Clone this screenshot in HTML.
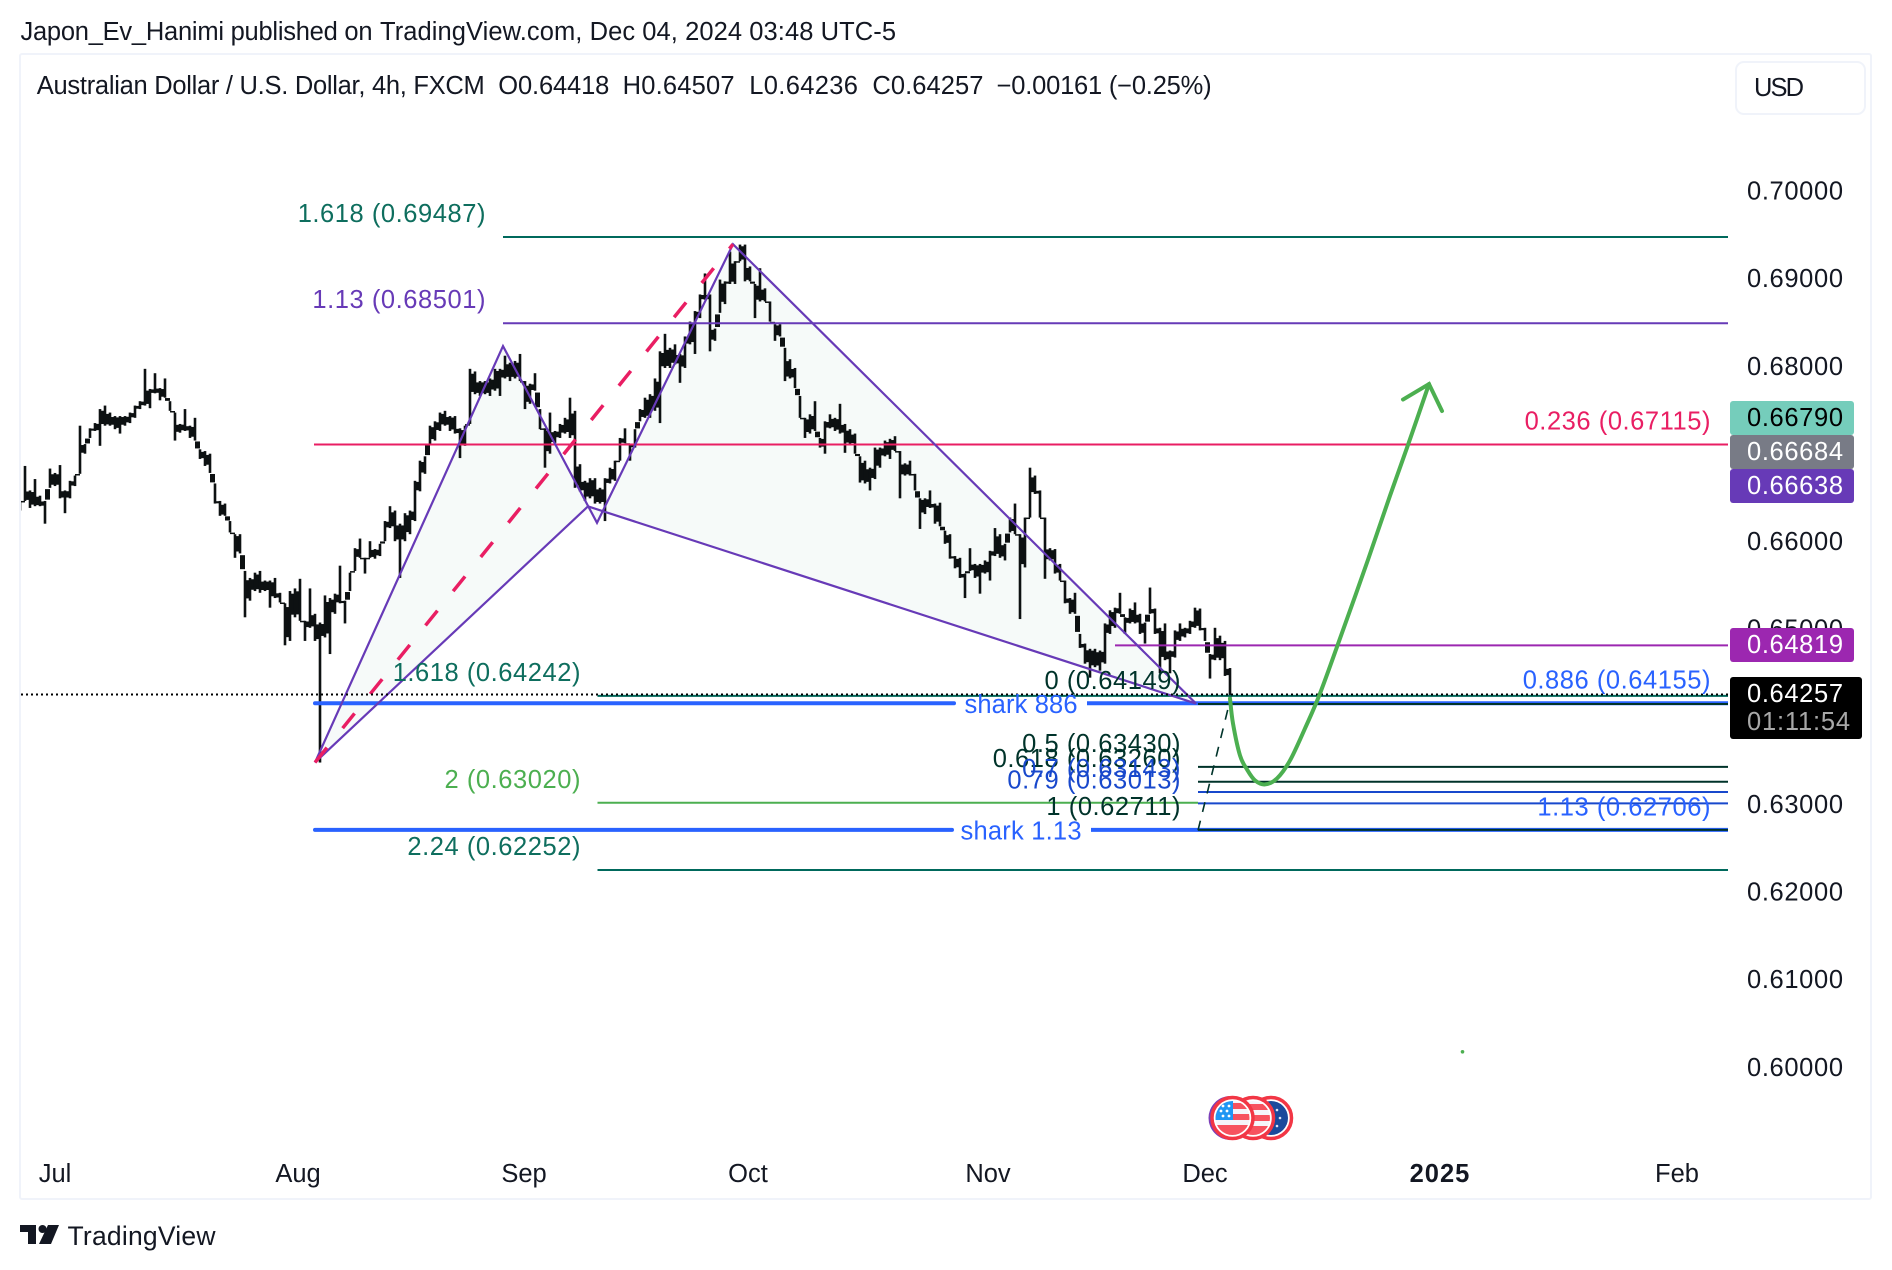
<!DOCTYPE html>
<html lang="en">
<head>
<meta charset="utf-8">
<title>AUD/USD 4h chart</title>
<style>
html,body{margin:0;padding:0;background:#fff;width:1892px;height:1270px;overflow:hidden}
svg{display:block;font-family:"Liberation Sans",sans-serif}
text{white-space:pre}
</style>
</head>
<body>
<svg id="chart" xmlns="http://www.w3.org/2000/svg" width="1892" height="1270" viewBox="0 0 1892 1270">
  <defs>
    <clipPath id="flag-clip-1"><circle cx="1232.5" cy="1118" r="17"/></clipPath>
    <clipPath id="flag-clip-2"><circle cx="1253" cy="1118" r="17"/></clipPath>
    <clipPath id="plot-clip"><rect x="21" y="55" width="1849" height="1143"/></clipPath>
  </defs>
  <rect x="0" y="0" width="1892" height="1270" fill="#ffffff"/>
  <g font-size="25.5" fill="#131722">
    <text x="20.5" y="32" dominant-baseline="central" textLength="352">Japon_Ev_Hanimi published on</text>
    <text x="380" y="32" dominant-baseline="central" textLength="516">TradingView.com, Dec 04, 2024 03:48 UTC-5</text>
  </g>
  <rect x="20" y="54" width="1851" height="1145" rx="2" fill="#ffffff" stroke="#f0f3fa" stroke-width="2"/>
  <g id="plot" clip-path="url(#plot-clip)"></g>
  <g id="axes"></g>

  <g font-size="25.5">
    <rect x="1730" y="401" width="124" height="34" rx="3" fill="#75cdbb"/>
    <text x="1747" y="418" dominant-baseline="central" fill="#000" textLength="96">0.66790</text>
    <rect x="1730" y="435" width="124" height="34" rx="3" fill="#787b86"/>
    <text x="1747" y="452" dominant-baseline="central" fill="#fff" textLength="96">0.66684</text>
    <rect x="1730" y="469" width="124" height="34" rx="3" fill="#673ab7"/>
    <text x="1747" y="486" dominant-baseline="central" fill="#fff" textLength="96">0.66638</text>
    <rect x="1730" y="628" width="124" height="34" rx="3" fill="#9c27b0"/>
    <text x="1747" y="645" dominant-baseline="central" fill="#fff" textLength="96">0.64819</text>
    <rect x="1730" y="677" width="132" height="62" rx="3" fill="#000"/>
    <text x="1747" y="694" dominant-baseline="central" fill="#fff" textLength="96">0.64257</text>
    <text x="1747" y="722" dominant-baseline="central" fill="#a8a8a8" textLength="103">01:11:54</text>
  </g>

  <g font-size="25.5" fill="#131722">
    <text x="36.8" y="86" dominant-baseline="central" textLength="448">Australian Dollar / U.S. Dollar, 4h, FXCM</text>
    <text x="498.3" y="86" dominant-baseline="central" textLength="111">O0.64418</text>
    <text x="622.6" y="86" dominant-baseline="central" textLength="112">H0.64507</text>
    <text x="749.3" y="86" dominant-baseline="central" textLength="108.6">L0.64236</text>
    <text x="872.4" y="86" dominant-baseline="central" textLength="111">C0.64257</text>
    <text x="996.6" y="86" dominant-baseline="central" textLength="215">−0.00161 (−0.25%)</text>
  </g>

  <g>
    <rect x="1736" y="62" width="129" height="52" rx="8" fill="#ffffff" stroke="#f0f3fa" stroke-width="2"/>
    <text x="1754" y="88" dominant-baseline="central" font-size="25.5" fill="#131722" textLength="50">USD</text>
  </g>

  <g>
    <circle cx="1230.5" cy="1118" r="22" fill="#7b3fb8"/>
    <g>
      <circle cx="1271" cy="1118" r="20.5" fill="#fff" stroke="#f23645" stroke-width="3.5"/>
      <circle cx="1271" cy="1118" r="17" fill="#1a4a9c"/>
      <circle cx="1277" cy="1110" r="1.3" fill="#dfe6f5"/>
      <circle cx="1280" cy="1118" r="1.3" fill="#dfe6f5"/>
      <circle cx="1277" cy="1126" r="1.3" fill="#dfe6f5"/>
    </g>
    <g>
      <circle cx="1253" cy="1118" r="20.5" fill="#fff" stroke="#f23645" stroke-width="3.5"/>
      <g clip-path="url(#flag-clip-2)">
        <rect x="1236" y="1101" width="34" height="34" fill="#f5f5fa"/>
        <rect x="1236" y="1104" width="34" height="6" fill="#f7525f"/>
        <rect x="1236" y="1115" width="34" height="6" fill="#f7525f"/>
        <rect x="1236" y="1126" width="34" height="9" fill="#f7525f"/>
      </g>
    </g>
    <g>
      <circle cx="1232.5" cy="1118" r="20.5" fill="#fff" stroke="#f23645" stroke-width="3.5"/>
      <g clip-path="url(#flag-clip-1)">
        <rect x="1215" y="1101" width="35" height="34" fill="#f5f5fa"/>
        <rect x="1215" y="1103" width="35" height="6" fill="#f7525f"/>
        <rect x="1215" y="1114" width="35" height="6" fill="#f7525f"/>
        <rect x="1215" y="1125" width="35" height="10" fill="#f7525f"/>
        <rect x="1215" y="1101" width="18" height="19" fill="#2196f3"/>
        <circle cx="1223" cy="1106" r="1.4" fill="#fff"/><circle cx="1229" cy="1106" r="1.4" fill="#fff"/>
        <circle cx="1221" cy="1111" r="1.4" fill="#fff"/><circle cx="1227" cy="1111" r="1.4" fill="#fff"/>
        <circle cx="1223" cy="1116" r="1.4" fill="#fff"/><circle cx="1229" cy="1116" r="1.4" fill="#fff"/>
      </g>
    </g>
  </g>

  <g>
    <path d="M20 1225H36V1244H28V1232H20Z" fill="#131722"/>
    <circle cx="42.5" cy="1229" r="4" fill="#131722"/>
    <path d="M48 1225H59L51 1244H39Z" fill="#131722"/>
    <text x="67.5" y="1236" dominant-baseline="central" font-size="26.5" fill="#131722" textLength="148">TradingView</text>
  </g>
</svg>

<script>
// ---- price axis data ----
const priceTicks = [0.70, 0.69, 0.68, 0.66, 0.65, 0.63, 0.62, 0.61, 0.60];
// ---- time axis data ----
const timeLabels = ["Jul", "Aug", "Sep", "Oct", "Nov", "Dec", "2025", "Feb"];
const timeTickBars = [7, 55.6, 100.8, 145.6, 193.6, 237, 284, 331.4];

const highs = [
0.6647,0.6687,0.6659,0.6672,0.6653,0.6647,0.6684,0.6679,0.6688,0.6659,0.6670,0.6676,0.6733,0.6712,0.6730,0.6736,
0.6752,0.6756,0.6748,0.6744,0.6744,0.6744,0.6748,0.6756,0.6761,0.6798,0.6775,0.6793,0.6776,0.6787,0.6761,0.6748,
0.6735,0.6752,0.6733,0.6742,0.6706,0.6704,0.6701,0.6667,0.6647,0.6644,0.6624,0.6609,0.6609,0.6567,0.6559,0.6565,
0.6567,0.6556,0.6556,0.6559,0.6542,0.6530,0.6544,0.6547,0.6558,0.6510,0.6547,0.6518,0.6508,0.6539,0.6536,0.6541,
0.6573,0.6533,0.6565,0.6593,0.6604,0.6582,0.6601,0.6592,0.6598,0.6624,0.6641,0.6636,0.6621,0.6633,0.6636,0.6670,
0.6693,0.6698,0.6733,0.6738,0.6748,0.6750,0.6744,0.6744,0.6730,0.6733,0.6798,0.6795,0.6784,0.6784,0.6787,0.6798,
0.6798,0.6813,0.6805,0.6807,0.6815,0.6784,0.6781,0.6793,0.6752,0.6730,0.6748,0.6727,0.6735,0.6742,0.6765,0.6750,
0.6689,0.6670,0.6673,0.6673,0.6662,0.6673,0.6685,0.6693,0.6719,0.6730,0.6712,0.6729,0.6752,0.6765,0.6769,0.6787,
0.6818,0.6838,0.6822,0.6826,0.6815,0.6835,0.6852,0.6864,0.6883,0.6907,0.6883,0.6844,0.6900,0.6898,0.6932,0.6921,
0.6940,0.6940,0.6915,0.6895,0.6913,0.6890,0.6875,0.6849,0.6849,0.6822,0.6809,0.6799,0.6767,0.6742,0.6746,0.6761,
0.6719,0.6738,0.6746,0.6742,0.6758,0.6735,0.6729,0.6724,0.6698,0.6693,0.6685,0.6708,0.6708,0.6716,0.6718,0.6721,
0.6704,0.6690,0.6693,0.6678,0.6650,0.6650,0.6659,0.6644,0.6645,0.6613,0.6609,0.6584,0.6582,0.6564,0.6593,0.6575,
0.6575,0.6579,0.6590,0.6616,0.6609,0.6598,0.6628,0.6644,0.6609,0.6628,0.6685,0.6676,0.6659,0.6628,0.6593,0.6592,
0.6575,0.6556,0.6536,0.6542,0.6495,0.6484,0.6478,0.6478,0.6476,0.6507,0.6522,0.6525,0.6542,0.6514,0.6524,0.6531,
0.6518,0.6508,0.6548,0.6524,0.6502,0.6507,0.6476,0.6499,0.6507,0.6502,0.6510,0.6525,0.6524,0.6502,0.6472,0.6502,
0.6493,0.6487,0.6456
];
const lows = [
0.6636,0.6647,0.6639,0.6641,0.6641,0.6621,0.6662,0.6664,0.6650,0.6633,0.6650,0.6664,0.6678,0.6701,0.6719,0.6727,
0.6710,0.6733,0.6733,0.6729,0.6724,0.6733,0.6736,0.6742,0.6752,0.6756,0.6753,0.6770,0.6762,0.6765,0.6750,0.6716,
0.6725,0.6727,0.6719,0.6716,0.6695,0.6687,0.6679,0.6644,0.6630,0.6630,0.6611,0.6582,0.6587,0.6514,0.6533,0.6544,
0.6542,0.6544,0.6525,0.6536,0.6531,0.6482,0.6487,0.6514,0.6510,0.6487,0.6502,0.6487,0.6348,0.6491,0.6472,0.6518,
0.6530,0.6507,0.6544,0.6567,0.6582,0.6564,0.6582,0.6581,0.6584,0.6601,0.6616,0.6601,0.6559,0.6601,0.6609,0.6624,
0.6658,0.6678,0.6712,0.6716,0.6727,0.6733,0.6727,0.6724,0.6696,0.6710,0.6735,0.6769,0.6767,0.6769,0.6767,0.6773,
0.6767,0.6787,0.6784,0.6787,0.6784,0.6752,0.6758,0.6773,0.6729,0.6685,0.6701,0.6713,0.6719,0.6724,0.6719,0.6662,
0.6658,0.6647,0.6650,0.6644,0.6644,0.6624,0.6667,0.6670,0.6693,0.6713,0.6693,0.6708,0.6738,0.6742,0.6742,0.6750,
0.6736,0.6799,0.6799,0.6803,0.6782,0.6799,0.6826,0.6815,0.6856,0.6877,0.6818,0.6830,0.6862,0.6872,0.6895,0.6895,
0.6921,0.6898,0.6898,0.6856,0.6875,0.6875,0.6852,0.6830,0.6835,0.6784,0.6787,0.6776,0.6742,0.6719,0.6724,0.6727,
0.6708,0.6701,0.6730,0.6727,0.6724,0.6702,0.6712,0.6701,0.6668,0.6667,0.6659,0.6672,0.6685,0.6698,0.6695,0.6704,
0.6650,0.6676,0.6676,0.6659,0.6615,0.6632,0.6639,0.6621,0.6618,0.6598,0.6581,0.6570,0.6559,0.6536,0.6567,0.6559,
0.6541,0.6564,0.6556,0.6584,0.6582,0.6579,0.6611,0.6609,0.6512,0.6571,0.6628,0.6655,0.6628,0.6558,0.6579,0.6564,
0.6556,0.6530,0.6518,0.6518,0.6479,0.6461,0.6445,0.6457,0.6453,0.6461,0.6495,0.6502,0.6518,0.6495,0.6507,0.6507,
0.6495,0.6484,0.6518,0.6495,0.6450,0.6465,0.6450,0.6468,0.6487,0.6491,0.6495,0.6502,0.6499,0.6487,0.6444,0.6465,
0.6465,0.6447,0.6422
];

// ---- current price ----
const lastPrice = [0.64257];

// ---- level data ----
const levelPrices = [0.69487, 0.68501, 0.67115, 0.64819, 0.64242, 0.63020, 0.62252, 0.64149, 0.63430, 0.63260, 0.63143, 0.63013, 0.62711, 0.64155, 0.62706];
const levelTexts = ["1.618", "1.13", "0.236", "", "1.618", "2", "2.24", "0", "0.5", "0.618", "0.7", "0.79", "1", "0.886", "1.13"];
const sharkPrices = [0.64157, 0.62711];
const sharkTexts = ["shark 886", "shark 1.13"];

// ---- harmonic pattern points (X, A, P, B, C, D) in bar slots and prices ----
const patternBars = [59, 96.6, 113.6, 115.4, 142.6, 235.2];
const patternPrices = [0.63481, 0.68240, 0.66408, 0.66220, 0.69404, 0.64154];

// ---- projected path ----
const forecastBars = [242, 242.6, 244, 245.4, 247, 249, 251.4, 254, 257, 260, 264.2, 269.6, 274, 277.6, 281.8];
const forecastPrices = [0.64211, 0.63926, 0.63561, 0.63401, 0.63276, 0.63230, 0.63298, 0.63504, 0.63870, 0.64269, 0.64930, 0.65798, 0.66530, 0.67110, 0.67806];
const arrowBars = [276.6, 281.8, 284.4];
const arrowPrices = [0.67629, 0.67806, 0.67498];
const guideBars = [235.6, 242.2];
const guidePrices = [0.62705, 0.64234];
const dotBars = [288.5];
const dotPrices = [0.60174];

// ---- axis functions ----
const SVG_NS = "http://www.w3.org/2000/svg";
function xAt(bar) { return 20 + bar * 5; }
function yAt(price) { return 192.1 + (0.7 - price) * 8749; }
function yTick(price) { return 191.5 + (0.7 - price) * 8763; }

const plot = document.getElementById('plot');
const axes = document.getElementById('axes');

function shape(parent, tag, name, interactable, props) {
  const el = document.createElementNS(SVG_NS, tag);
  
  
  for (const k in props) el.setAttribute(k, props[k]);
  parent.appendChild(el);
  return el;
}
function label(parent, name, str, x, y, fill, anchor, extra) {
  const el = shape(parent, 'text', name, 'false', Object.assign({
    x: x, y: y, fill: fill, 'text-anchor': anchor, 'font-size': 25.5, 'dominant-baseline': 'central'
  }, extra || {}));
  el.textContent = str;
  return el;
}
function hLine(name, price, bar1, bar2, color, width) {
  return shape(plot, 'line', name, 'true', {
    x1: xAt(bar1), x2: xAt(bar2), y1: yAt(price), y2: yAt(price), stroke: color, 'stroke-width': width
  });
}
function pts(bars, prices, idx) {
  return idx.map(function (i) { return xAt(bars[i]) + ',' + yAt(prices[i]); }).join(' ');
}
function smoothPath(bars, prices) {
  const p = bars.map(function (b, i) { return [xAt(b), yAt(prices[i])]; });
  let d = 'M' + p[0][0] + ' ' + p[0][1];
  for (let i = 0; i < p.length - 1; i++) {
    const a = p[Math.max(0, i - 1)], b = p[i], c = p[i + 1], e = p[Math.min(p.length - 1, i + 2)];
    d += ' C' + (b[0] + (c[0] - a[0]) / 6) + ' ' + (b[1] + (c[1] - a[1]) / 6) + ' ' +
      (c[0] - (e[0] - b[0]) / 6) + ' ' + (c[1] - (e[1] - b[1]) / 6) + ' ' + c[0] + ' ' + c[1];
  }
  return d;
}

// pattern fill under the candles
shape(plot, 'polygon', 'pattern-fill-xab', 'false', { points: pts(patternBars, patternPrices, [0, 1, 2]), fill: '#f6faf9' });
shape(plot, 'polygon', 'pattern-fill-bcd', 'false', { points: pts(patternBars, patternPrices, [2, 3, 4, 5]), fill: '#f6faf9' });

// candles: a thin range bar per slot, joined to its neighbour across the shared range
const candleColor = '#0d1112';
for (let i = 0; i < highs.length; i++) {
  const top = yAt(highs[i]), bottom = yAt(lows[i]);
  const bar = document.createElementNS(SVG_NS, 'rect');
  
  
  bar.setAttribute('x', xAt(i) - 1.3);
  bar.setAttribute('width', 2.6);
  bar.setAttribute('y', top);
  bar.setAttribute('height', bottom - top);
  bar.setAttribute('fill', candleColor);
  plot.appendChild(bar);
  if (i < highs.length - 1) {
    const a = Math.max(top, yAt(highs[i + 1])), b = Math.min(bottom, yAt(lows[i + 1]));
    const inset = Math.abs(b - a) * 0.1;
    const link = document.createElementNS(SVG_NS, 'rect');
    
    
    link.setAttribute('x', xAt(i));
    link.setAttribute('width', xAt(i + 1) - xAt(i));
    link.setAttribute('y', Math.min(a, b) + inset);
    link.setAttribute('height', Math.max(1.5, Math.abs(b - a) - 2 * inset));
    link.setAttribute('fill', candleColor);
    plot.appendChild(link);
  }
}

// level lines
const lineEnd = 341.6;
const green1 = '#00695c', dark1 = '#00332a', blue1 = '#1848cc', blue2 = '#2962ff';
hLine('level-line-1618-upper', levelPrices[0], 96.6, lineEnd, green1, 2);
hLine('level-line-113-upper', levelPrices[1], 96.6, lineEnd, '#673ab7', 2);
hLine('level-line-0236', levelPrices[2], 58.8, lineEnd, '#e91e63', 2);
hLine('level-line-magenta', levelPrices[3], 219, lineEnd, '#9c27b0', 2);
hLine('level-line-1618-lower', levelPrices[4], 115.5, lineEnd, green1, 2);
hLine('level-line-2', levelPrices[5], 115.5, 235.6, '#4caf50', 2);
hLine('level-line-224', levelPrices[6], 115.5, lineEnd, green1, 2);

// shark lines with gaps for their labels
hLine('shark-886-line-left', sharkPrices[0], 59, 186.8, blue2, 4).setAttribute('stroke-linecap', 'round');
hLine('shark-886-line-right', sharkPrices[0], 213.4, lineEnd, blue2, 4);
hLine('shark-113-line-left', sharkPrices[1], 59, 186.4, blue2, 4).setAttribute('stroke-linecap', 'round');
hLine('shark-113-line-right', sharkPrices[1], 214.2, lineEnd, blue2, 4);

// fib lines
hLine('fib-line-0', levelPrices[7], 235.6, lineEnd, dark1, 2);
hLine('fib-line-05', levelPrices[8], 235.6, lineEnd, dark1, 2);
hLine('fib-line-0618', levelPrices[9], 235.6, lineEnd, dark1, 2);
hLine('fib-line-07', levelPrices[10], 235.6, lineEnd, blue1, 2);
hLine('fib-line-079', levelPrices[11], 235.6, lineEnd, blue1, 2);
hLine('fib-line-1', levelPrices[12], 235.6, lineEnd, dark1, 2);

// pattern outline
shape(plot, 'polyline', 'pattern-outline', 'true', {
  points: pts(patternBars, patternPrices, [0, 1, 3, 4, 5]), fill: 'none', stroke: '#673ab7', 'stroke-width': 2.2, 'stroke-linejoin': 'miter'
});
shape(plot, 'polyline', 'pattern-base', 'true', {
  points: pts(patternBars, patternPrices, [0, 2, 5]), fill: 'none', stroke: '#673ab7', 'stroke-width': 2.2
});
// pink dashed X-C
shape(plot, 'polyline', 'xc-dashed-line', 'true', {
  points: pts(patternBars, patternPrices, [0, 4]), fill: 'none', stroke: '#e91e63', 'stroke-width': 3.5, 'stroke-dasharray': '19 25'
});

// last price dotted line
shape(plot, 'line', 'last-price-line', 'false', {
  x1: 21, x2: xAt(lineEnd), y1: yAt(lastPrice[0]), y2: yAt(lastPrice[0]), stroke: '#000', 'stroke-width': 2, 'stroke-dasharray': '2 3'
});

// thin dashed guide
shape(plot, 'polyline', 'guide-dashed-line', 'true', {
  points: pts(guideBars, guidePrices, [0, 1]), fill: 'none', stroke: dark1, 'stroke-width': 1.6, 'stroke-dasharray': '10 9'
});

// forecast path
shape(plot, 'path', 'forecast-path', 'true', {
  d: smoothPath(forecastBars, forecastPrices), fill: 'none', stroke: '#4caf50', 'stroke-width': 4, 'stroke-linecap': 'round'
});
shape(plot, 'polyline', 'forecast-arrowhead', 'true', {
  points: pts(arrowBars, arrowPrices, [0, 1, 2]), fill: 'none', stroke: '#4caf50', 'stroke-width': 4, 'stroke-linecap': 'round', 'stroke-linejoin': 'miter'
});
shape(plot, 'circle', 'stray-green-dot', 'false', { cx: xAt(dotBars[0]), cy: yAt(dotPrices[0]), r: 1.8, fill: '#4caf50' });

// level labels
const labelShift = -23;
function levelLabel(i, rightX, color) {
  const text = levelTexts[i] + ' (' + levelPrices[i].toFixed(5) + ')';
  label(plot, 'level-label-' + levelTexts[i].replace('.', '-'), text, rightX, yAt(levelPrices[i]) + labelShift, color, 'end', { 'letter-spacing': 0.55 });
}
levelLabel(0, 486, '#0e6e5e');
levelLabel(1, 486, '#673ab7');
levelLabel(2, 1711, '#e91e63');
levelLabel(4, 581, '#0e6e5e');
levelLabel(5, 581, '#4caf50');
levelLabel(6, 581, '#0e6e5e');
levelLabel(7, 1181, dark1);
levelLabel(8, 1181, dark1);
levelLabel(9, 1181, dark1);
levelLabel(10, 1181, blue1);
levelLabel(11, 1181, blue1);
levelLabel(12, 1181, dark1);
levelLabel(13, 1711, blue2);
levelLabel(14, 1711, blue2);

label(plot, 'shark-886-label', sharkTexts[0], 1021, yAt(sharkPrices[0]) + 1.5, blue2, 'middle', { textLength: 113 });
label(plot, 'shark-113-label', sharkTexts[1], 1021, yAt(sharkPrices[1]) + 1.5, blue2, 'middle', { textLength: 121 });

// price axis
priceTicks.forEach(function (p) {
  label(axes, 'price-tick-label', p.toFixed(5), 1747, yTick(p), '#131722', 'start', { textLength: 96 });
});

// time axis
timeLabels.forEach(function (t, i) {
  const extra = t === '2025' ? { 'font-weight': 'bold', 'letter-spacing': 1 } : {};
  label(axes, 'time-tick-label', t, xAt(timeTickBars[i]), 1174, '#131722', 'middle', extra);
});
</script>
</body>
</html>
